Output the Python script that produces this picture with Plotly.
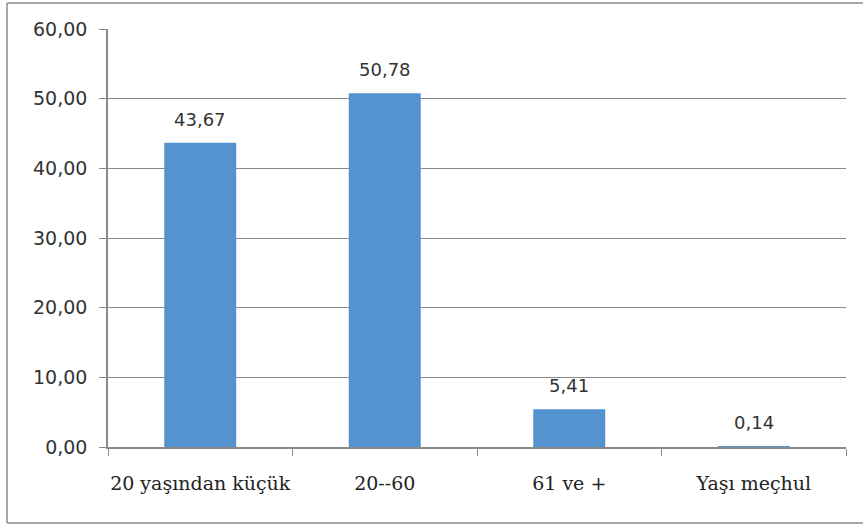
import plotly.graph_objects as go

categories = ["20 yaşından küçük", "20--60", "61 ve +", "Yaşı meçhul"]
values = [43.67, 50.78, 5.41, 0.14]
value_labels = ["43,67", "50,78", "5,41", "0,14"]
y_tick_vals = [0, 10, 20, 30, 40, 50, 60]
y_tick_text = ["0,00", "10,00", "20,00", "30,00", "40,00", "50,00", "60,00"]

W, H = 863, 525
L, R, T, B = 108, 17, 29, 78
pw, ph = W - L - R, H - T - B

fig = go.Figure()
fig.add_trace(go.Bar(
    x=categories, y=values,
    marker=dict(color="#5592D0", line=dict(width=0)),
    width=0.39,
    hoverinfo="skip",
))

for c, v, t in zip(categories, values, value_labels):
    fig.add_annotation(x=c, y=v, text=t, showarrow=False,
                       yanchor="bottom", yshift=11,
                       font=dict(family="DejaVu Sans", size=18, color="#333333"))

def px_to_paper_x(p):
    return (p - L) / pw

def px_to_paper_y(p):
    return (H - B - p) / ph

# outer chart frame (left, top, bottom edges; right edge is off-canvas)
xl, xr = px_to_paper_x(7), px_to_paper_x(W)
yb, yt = px_to_paper_y(523), px_to_paper_y(3)
frame = dict(type="line", xref="paper", yref="paper",
             line=dict(color="#8a8a8a", width=1.5), layer="below")
fig.add_shape(x0=xl, x1=xl, y0=yb, y1=yt, **frame)
fig.add_shape(x0=xl, x1=xr, y0=yt, y1=yt, **frame)
fig.add_shape(x0=xl, x1=xr, y0=yb, y1=yb, **frame)

fig.update_layout(
    width=W, height=H,
    margin=dict(l=L, r=R, t=T, b=B, autoexpand=False),
    paper_bgcolor="white", plot_bgcolor="white",
    showlegend=False,
    xaxis=dict(
        type="category", showgrid=False, tickangle=0, automargin=False,
        showline=True, linecolor="#8a8a8a", linewidth=1.5,
        ticks="outside", tickson="boundaries", ticklen=7, tickcolor="#8a8a8a",
        ticklabelstandoff=18,
        tickfont=dict(family="DejaVu Serif", size=19, color="#222222"),
    ),
    yaxis=dict(
        range=[0, 60], tickvals=y_tick_vals, ticktext=y_tick_text, automargin=False,
        showgrid=True, gridcolor="#8a8a8a", gridwidth=1,
        showline=True, linecolor="#8a8a8a", linewidth=1.5,
        ticks="outside", ticklen=7, tickcolor="#8a8a8a",
        ticklabelstandoff=8,
        tickfont=dict(family="DejaVu Sans", size=19, color="#333333"),
        zeroline=False,
    ),
)

fig.write_html("out.html", config={"displayModeBar": False},
               post_script="document.body.style.margin='0';document.body.style.overflow='hidden';")
